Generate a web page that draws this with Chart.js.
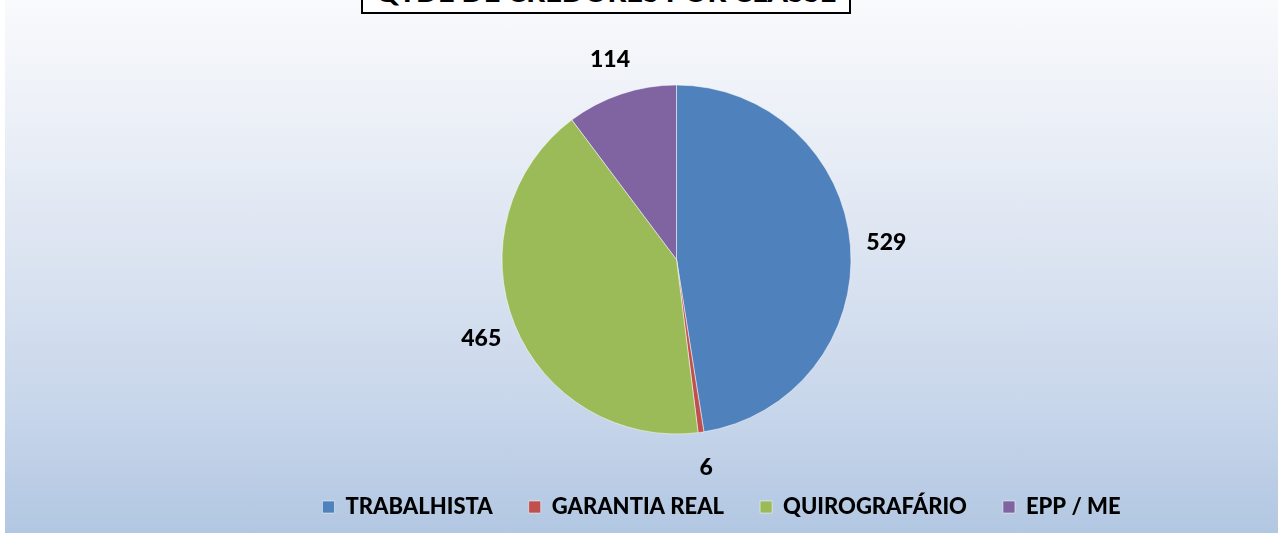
<!DOCTYPE html>
<html lang="pt">
<head>
    <meta charset="UTF-8">
    <title>QTDE DE CREDORES POR CLASSE</title>
    <script src="https://cdn.jsdelivr.net/npm/chart.js"></script>
    <style>
        html, body { margin: 0; padding: 0; }
        body { width: 1278px; height: 533px; position: relative; overflow: hidden; background: #fff; }
        #bg {
            position: absolute; left: 5px; top: 0; right: 0; bottom: 0;
            background: linear-gradient(to bottom, #f9fafc 0%, #e4eaf4 35%, #c9d7eb 75%, #b2c7e2 100%);
        }
        #titulo {
            position: absolute; left: 361px; top: -38px; width: 486px; height: 36px; padding-top: 12px;
            border: 2px solid #000; background: #fff;
            font: 900 29px Lato, sans-serif; color: #000; text-align: center;
            line-height: 30px; box-sizing: content-box; white-space: nowrap;
        }
        #wrap { position: absolute; left: 0; top: 0; width: 1278px; height: 533px; }
    </style>
</head>
<body>
    <div id="bg"></div>
    <div id="wrap"><canvas id="myChart" width="1278" height="533"></canvas></div>
    <div id="titulo">QTDE DE CREDORES POR CLASSE</div>

<script>
    const classes = ['TRABALHISTA', 'GARANTIA REAL', 'QUIROGRAFÁRIO', 'EPP / ME'];
    const credores = [529, 6, 465, 114];
    const cores = ['#4f81bd', '#c0504d', '#9bbb59', '#8064a2'];

    // rotulos de valor fora das fatias
    const rotulos = {
        id: 'rotulos',
        afterDatasetsDraw(chart) {
            const ctx = chart.ctx;
            const meta = chart.getDatasetMeta(0);
            ctx.save();
            ctx.font = '900 23px Lato, sans-serif';
            ctx.fillStyle = '#000';
            ctx.textAlign = 'center';
            ctx.textBaseline = 'middle';
            meta.data.forEach((arc, i) => {
                const meio = (arc.startAngle + arc.endAngle) / 2;
                const r = arc.outerRadius + 36;
                const x = arc.x + Math.cos(meio) * r;
                const y = arc.y + Math.sin(meio) * r;
                ctx.fillText(String(credores[i]), x, y);
            });
            ctx.restore();
        }
    };

    // legenda um pouco deslocada para a direita, como no original
    const moveLegenda = {
        id: 'moveLegenda',
        afterLayout(chart) {
            chart.legend.left += 45;
            chart.legend.right += 45;
        }
    };

    const data = {
        labels: classes,
        datasets: [{
            data: credores,
            backgroundColor: cores,
            borderColor: '#ffffff',
            borderWidth: 0.5,
            radius: 174.5
        }]
    };

    const config = {
        type: 'pie',
        data: data,
        options: {
            responsive: false,
            animation: false,
            layout: { padding: { left: 75, right: 0, top: 59, bottom: 5 } },
            plugins: {
                legend: {
                    position: 'bottom',
                    labels: {
                        boxWidth: 12,
                        boxHeight: 12,
                        padding: 36,
                        color: '#000',
                        font: { family: 'Lato', weight: '900', size: 22 }
                    }
                },
                tooltip: { enabled: false },
                title: { display: false }
            }
        },
        plugins: [rotulos, moveLegenda]
    };

    const myChart = new Chart(document.querySelector('#myChart'), config);
</script>
</body>
</html>
